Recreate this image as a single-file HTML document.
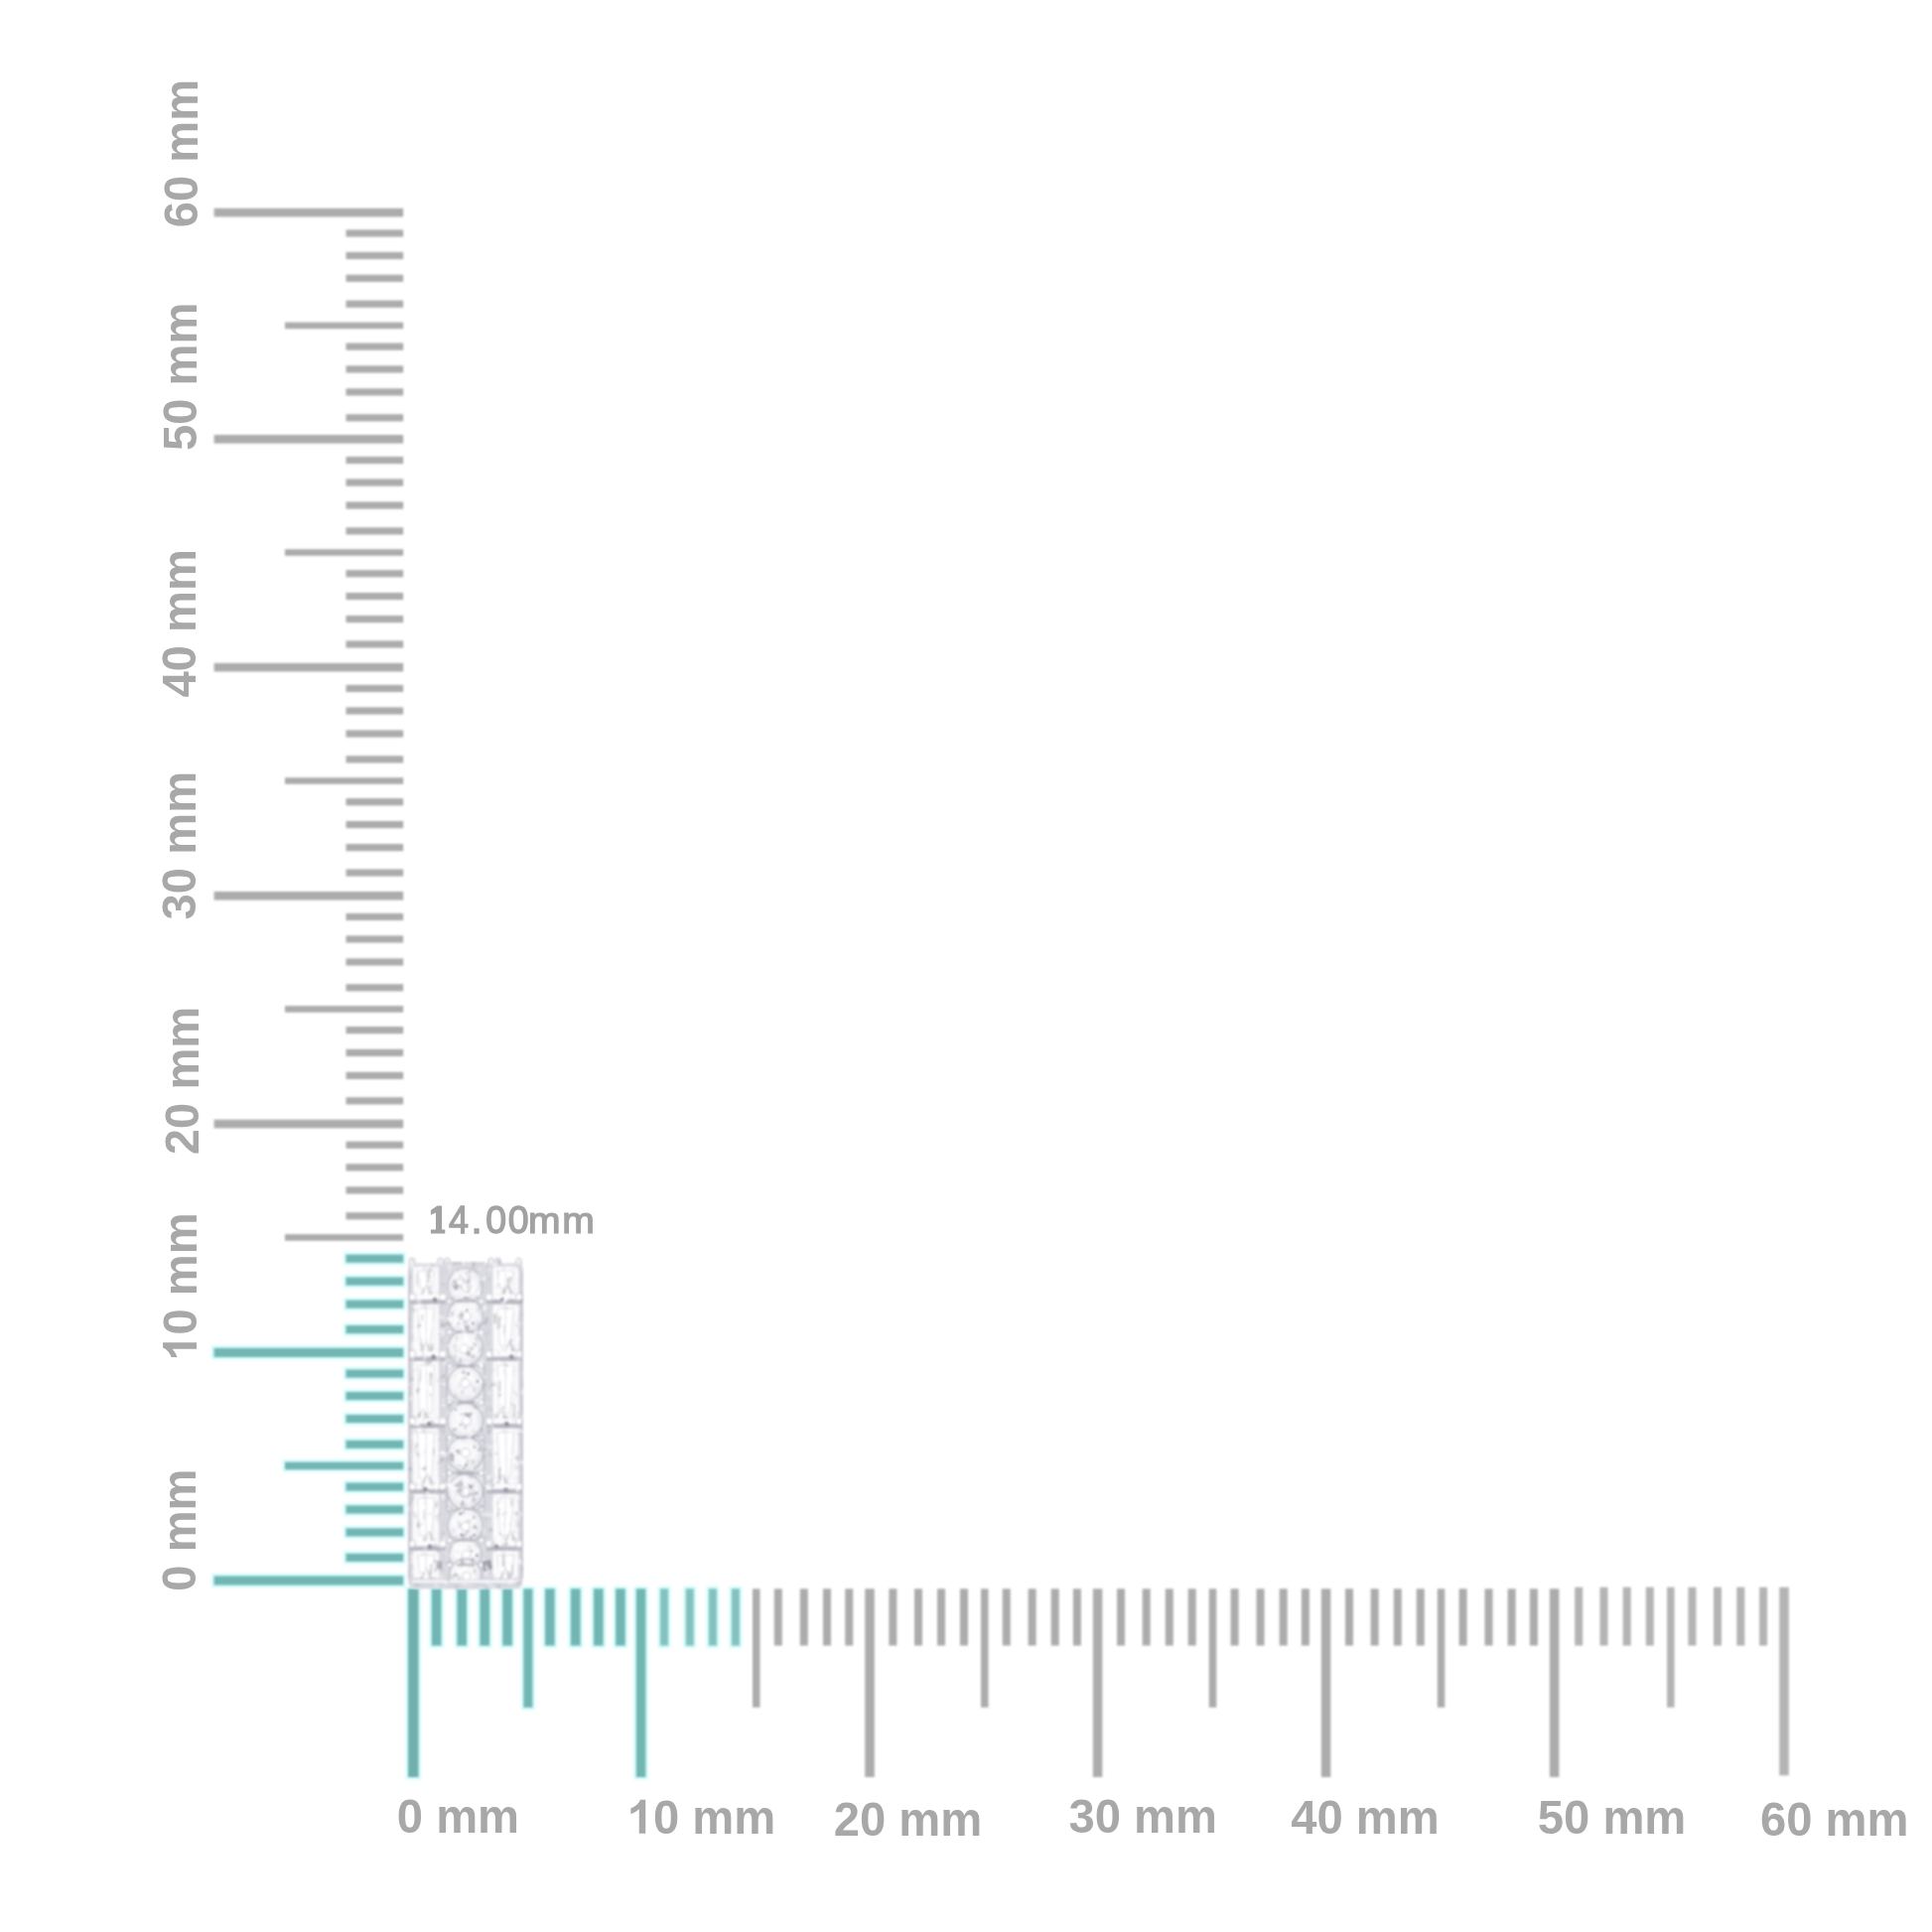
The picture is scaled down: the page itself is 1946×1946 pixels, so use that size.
<!DOCTYPE html>
<html><head><meta charset="utf-8"><title>Ring size 14.00mm</title>
<style>
html,body{margin:0;padding:0;background:#fff;}
body{width:1946px;height:1946px;overflow:hidden;position:relative;font-family:"Liberation Sans",sans-serif;}
svg{position:absolute;left:0;top:0;display:block;}
.lbl path{fill:#a8a8a8;}
.lbl text{font-family:"Liberation Sans",sans-serif;font-weight:700;font-size:47.2px;fill:#a8a8a8;}
.dim{font-family:"Liberation Sans",sans-serif;font-weight:400;font-size:39.1px;fill:#a2a2a2;stroke:#a2a2a2;stroke-width:1.3px;}
</style></head>
<body>
<svg width="1946" height="1946" viewBox="0 0 1946 1946">
<defs>
<filter id="soft" x="-2%" y="-2%" width="104%" height="104%"><feGaussianBlur stdDeviation="0.9"/></filter>
<filter id="halo" x="-2%" y="-2%" width="104%" height="104%"><feGaussianBlur stdDeviation="1.4"/></filter>
<filter id="softd" x="-2%" y="-2%" width="104%" height="104%"><feGaussianBlur stdDeviation="0.7"/></filter>
<filter id="softt" x="-2%" y="-2%" width="104%" height="104%"><feGaussianBlur stdDeviation="0.6"/></filter>
</defs>
<g filter="url(#halo)">
<rect x="408.7" y="1597.9" width="15.2" height="194.5" fill="#d2fbfb"/>
<rect x="432.46" y="1597.9" width="14.4" height="62" fill="#d2fbfb"/>
<rect x="458.01" y="1597.9" width="14.4" height="62" fill="#d2fbfb"/>
<rect x="481.07" y="1597.9" width="14.4" height="62" fill="#d2fbfb"/>
<rect x="503.93" y="1597.9" width="14.4" height="62" fill="#d2fbfb"/>
<rect x="525" y="1597.9" width="13.8" height="124.3" fill="#d2fbfb"/>
<rect x="546.66" y="1597.9" width="14.4" height="62" fill="#d2fbfb"/>
<rect x="572.51" y="1597.9" width="14.4" height="62" fill="#d2fbfb"/>
<rect x="595.57" y="1597.9" width="14.4" height="62" fill="#d2fbfb"/>
<rect x="617.74" y="1597.9" width="14.4" height="62" fill="#d2fbfb"/>
<rect x="638.45" y="1597.9" width="14.3" height="194.5" fill="#d2fbfb"/>
<rect x="662.67" y="1597.9" width="12.8" height="62" fill="#d2fbfb"/>
<rect x="688.35" y="1597.9" width="12.8" height="62" fill="#d2fbfb"/>
<rect x="711.52" y="1597.9" width="12.8" height="62" fill="#d2fbfb"/>
<rect x="734.49" y="1597.9" width="12.8" height="62" fill="#d2fbfb"/>
<rect x="213.2" y="1585.1" width="195.4" height="13.8" fill="#d2fbfb"/>
<rect x="346.1" y="1562.41" width="62.5" height="12.8" fill="#d2fbfb"/>
<rect x="346.1" y="1537.02" width="62.5" height="12.8" fill="#d2fbfb"/>
<rect x="346.1" y="1514.03" width="62.5" height="12.8" fill="#d2fbfb"/>
<rect x="346.1" y="1491.24" width="62.5" height="12.8" fill="#d2fbfb"/>
<rect x="284.6" y="1470.3" width="124" height="12.3" fill="#d2fbfb"/>
<rect x="346.1" y="1448.46" width="62.5" height="12.8" fill="#d2fbfb"/>
<rect x="346.1" y="1422.67" width="62.5" height="12.8" fill="#d2fbfb"/>
<rect x="346.1" y="1399.68" width="62.5" height="12.8" fill="#d2fbfb"/>
<rect x="346.1" y="1377.19" width="62.5" height="12.8" fill="#d2fbfb"/>
<rect x="213.2" y="1355.5" width="195.4" height="13.8" fill="#d2fbfb"/>
<rect x="346.1" y="1332.73" width="62.5" height="12.8" fill="#d2fbfb"/>
<rect x="346.1" y="1307.25" width="62.5" height="12.8" fill="#d2fbfb"/>
<rect x="346.1" y="1284.18" width="62.5" height="12.8" fill="#d2fbfb"/>
<rect x="346.1" y="1261.31" width="62.5" height="12.8" fill="#d2fbfb"/>
</g>
<g filter="url(#soft)">
<rect x="411.1" y="1600.3" width="10.4" height="189.7" fill="#70b0ad"/>
<rect x="434.86" y="1600.3" width="9.6" height="57.2" fill="#72b6b3"/>
<rect x="460.41" y="1600.3" width="9.6" height="57.2" fill="#72b6b3"/>
<rect x="483.47" y="1600.3" width="9.6" height="57.2" fill="#72b6b3"/>
<rect x="506.33" y="1600.3" width="9.6" height="57.2" fill="#72b6b3"/>
<rect x="527.4" y="1600.3" width="9" height="119.5" fill="#72b6b3"/>
<rect x="549.06" y="1600.3" width="9.6" height="57.2" fill="#72b6b3"/>
<rect x="574.91" y="1600.3" width="9.6" height="57.2" fill="#72b6b3"/>
<rect x="597.97" y="1600.3" width="9.6" height="57.2" fill="#72b6b3"/>
<rect x="620.14" y="1600.3" width="9.6" height="57.2" fill="#72b6b3"/>
<rect x="640.85" y="1600.3" width="9.5" height="189.7" fill="#72b6b3"/>
<rect x="665.07" y="1600.3" width="8" height="57.2" fill="#84c2bf"/>
<rect x="690.75" y="1600.3" width="8" height="57.2" fill="#84c2bf"/>
<rect x="713.92" y="1600.3" width="8" height="57.2" fill="#84c2bf"/>
<rect x="736.89" y="1600.3" width="8" height="57.2" fill="#84c2bf"/>
<rect x="758" y="1600.3" width="7.5" height="119.5" fill="#acacac"/>
<rect x="779.82" y="1600.3" width="8" height="57.2" fill="#acacac"/>
<rect x="805.8" y="1600.3" width="8" height="57.2" fill="#acacac"/>
<rect x="828.97" y="1600.3" width="8" height="57.2" fill="#acacac"/>
<rect x="851.24" y="1600.3" width="8" height="57.2" fill="#acacac"/>
<rect x="871.25" y="1600.3" width="9.5" height="189.7" fill="#acacac"/>
<rect x="895.39" y="1600.3" width="8" height="57.2" fill="#acacac"/>
<rect x="920.98" y="1600.3" width="8" height="57.2" fill="#acacac"/>
<rect x="944.07" y="1600.3" width="8" height="57.2" fill="#acacac"/>
<rect x="966.96" y="1600.3" width="8" height="57.2" fill="#acacac"/>
<rect x="988" y="1600.3" width="7.5" height="119.5" fill="#acacac"/>
<rect x="1009.74" y="1600.3" width="8" height="57.2" fill="#acacac"/>
<rect x="1035.63" y="1600.3" width="8" height="57.2" fill="#acacac"/>
<rect x="1058.72" y="1600.3" width="8" height="57.2" fill="#acacac"/>
<rect x="1080.91" y="1600.3" width="8" height="57.2" fill="#acacac"/>
<rect x="1100.85" y="1600.3" width="9.5" height="189.7" fill="#acacac"/>
<rect x="1125.03" y="1600.3" width="8" height="57.2" fill="#acacac"/>
<rect x="1150.66" y="1600.3" width="8" height="57.2" fill="#acacac"/>
<rect x="1173.79" y="1600.3" width="8" height="57.2" fill="#acacac"/>
<rect x="1196.72" y="1600.3" width="8" height="57.2" fill="#acacac"/>
<rect x="1217.8" y="1600.3" width="7.5" height="119.5" fill="#acacac"/>
<rect x="1239.58" y="1600.3" width="8" height="57.2" fill="#acacac"/>
<rect x="1265.51" y="1600.3" width="8" height="57.2" fill="#acacac"/>
<rect x="1288.64" y="1600.3" width="8" height="57.2" fill="#acacac"/>
<rect x="1310.87" y="1600.3" width="8" height="57.2" fill="#acacac"/>
<rect x="1330.85" y="1600.3" width="9.5" height="189.7" fill="#acacac"/>
<rect x="1355.03" y="1600.3" width="8" height="57.2" fill="#acacac"/>
<rect x="1380.66" y="1600.3" width="8" height="57.2" fill="#acacac"/>
<rect x="1403.79" y="1600.3" width="8" height="57.2" fill="#acacac"/>
<rect x="1426.72" y="1600.3" width="8" height="57.2" fill="#acacac"/>
<rect x="1447.8" y="1600.3" width="7.5" height="119.5" fill="#acacac"/>
<rect x="1469.58" y="1600.3" width="8" height="57.2" fill="#acacac"/>
<rect x="1495.51" y="1600.3" width="8" height="57.2" fill="#acacac"/>
<rect x="1518.64" y="1600.3" width="8" height="57.2" fill="#acacac"/>
<rect x="1540.87" y="1600.3" width="8" height="57.2" fill="#acacac"/>
<rect x="1560.85" y="1600.3" width="9.5" height="189.7" fill="#acacac"/>
<rect x="1586.2" y="1598.7" width="8" height="58.8" fill="#b4b4b4"/>
<rect x="1611.5" y="1598.7" width="8" height="58.8" fill="#b4b4b4"/>
<rect x="1634.7" y="1598.7" width="8" height="58.8" fill="#b4b4b4"/>
<rect x="1657.8" y="1598.7" width="8" height="58.8" fill="#b4b4b4"/>
<rect x="1679.05" y="1598.7" width="7.5" height="121.1" fill="#b4b4b4"/>
<rect x="1700.4" y="1598.7" width="8" height="58.8" fill="#b4b4b4"/>
<rect x="1726" y="1598.7" width="8" height="58.8" fill="#b4b4b4"/>
<rect x="1749.3" y="1598.7" width="8" height="58.8" fill="#b4b4b4"/>
<rect x="1772.1" y="1598.7" width="8" height="58.8" fill="#b4b4b4"/>
<rect x="1792.25" y="1598.7" width="9.5" height="189.6" fill="#b4b4b4"/>
<rect x="215.6" y="1587.5" width="190.6" height="9" fill="#72b6b3"/>
<rect x="348.5" y="1564.81" width="57.7" height="8" fill="#72b6b3"/>
<rect x="348.5" y="1539.42" width="57.7" height="8" fill="#72b6b3"/>
<rect x="348.5" y="1516.43" width="57.7" height="8" fill="#72b6b3"/>
<rect x="348.5" y="1493.64" width="57.7" height="8" fill="#72b6b3"/>
<rect x="287" y="1472.7" width="119.2" height="7.5" fill="#72b6b3"/>
<rect x="348.5" y="1450.86" width="57.7" height="8" fill="#72b6b3"/>
<rect x="348.5" y="1425.07" width="57.7" height="8" fill="#72b6b3"/>
<rect x="348.5" y="1402.08" width="57.7" height="8" fill="#72b6b3"/>
<rect x="348.5" y="1379.59" width="57.7" height="8" fill="#72b6b3"/>
<rect x="215.6" y="1357.9" width="190.6" height="9" fill="#72b6b3"/>
<rect x="348.5" y="1335.13" width="57.7" height="8" fill="#72b6b3"/>
<rect x="348.5" y="1309.65" width="57.7" height="8" fill="#72b6b3"/>
<rect x="348.5" y="1286.58" width="57.7" height="8" fill="#72b6b3"/>
<rect x="348.5" y="1263.71" width="57.7" height="8" fill="#72b6b3"/>
<rect x="287" y="1243.15" width="119.2" height="6.6" fill="#acacac"/>
<rect x="348.5" y="1221.18" width="57.7" height="7.2" fill="#acacac"/>
<rect x="348.5" y="1195.3" width="57.7" height="7.2" fill="#acacac"/>
<rect x="348.5" y="1172.23" width="57.7" height="7.2" fill="#acacac"/>
<rect x="348.5" y="1149.66" width="57.7" height="7.2" fill="#acacac"/>
<rect x="215.6" y="1127.7" width="190.6" height="8.6" fill="#acacac"/>
<rect x="348.5" y="1105.2" width="57.7" height="7.2" fill="#acacac"/>
<rect x="348.5" y="1079.8" width="57.7" height="7.2" fill="#acacac"/>
<rect x="348.5" y="1056.8" width="57.7" height="7.2" fill="#acacac"/>
<rect x="348.5" y="1034" width="57.7" height="7.2" fill="#acacac"/>
<rect x="287" y="1013.1" width="119.2" height="6.6" fill="#acacac"/>
<rect x="348.5" y="991.2" width="57.7" height="7.2" fill="#acacac"/>
<rect x="348.5" y="965.4" width="57.7" height="7.2" fill="#acacac"/>
<rect x="348.5" y="942.4" width="57.7" height="7.2" fill="#acacac"/>
<rect x="348.5" y="919.9" width="57.7" height="7.2" fill="#acacac"/>
<rect x="215.6" y="898" width="190.6" height="8.6" fill="#acacac"/>
<rect x="348.5" y="875.46" width="57.7" height="7.2" fill="#acacac"/>
<rect x="348.5" y="850.02" width="57.7" height="7.2" fill="#acacac"/>
<rect x="348.5" y="826.98" width="57.7" height="7.2" fill="#acacac"/>
<rect x="348.5" y="804.14" width="57.7" height="7.2" fill="#acacac"/>
<rect x="287" y="783.2" width="119.2" height="6.6" fill="#acacac"/>
<rect x="348.5" y="761.26" width="57.7" height="7.2" fill="#acacac"/>
<rect x="348.5" y="735.42" width="57.7" height="7.2" fill="#acacac"/>
<rect x="348.5" y="712.38" width="57.7" height="7.2" fill="#acacac"/>
<rect x="348.5" y="689.84" width="57.7" height="7.2" fill="#acacac"/>
<rect x="215.6" y="667.9" width="190.6" height="8.6" fill="#acacac"/>
<rect x="348.5" y="645.38" width="57.7" height="7.2" fill="#acacac"/>
<rect x="348.5" y="619.96" width="57.7" height="7.2" fill="#acacac"/>
<rect x="348.5" y="596.94" width="57.7" height="7.2" fill="#acacac"/>
<rect x="348.5" y="574.12" width="57.7" height="7.2" fill="#acacac"/>
<rect x="287" y="553.2" width="119.2" height="6.6" fill="#acacac"/>
<rect x="348.5" y="531.28" width="57.7" height="7.2" fill="#acacac"/>
<rect x="348.5" y="505.46" width="57.7" height="7.2" fill="#acacac"/>
<rect x="348.5" y="482.44" width="57.7" height="7.2" fill="#acacac"/>
<rect x="348.5" y="459.92" width="57.7" height="7.2" fill="#acacac"/>
<rect x="215.6" y="438" width="190.6" height="8.6" fill="#acacac"/>
<rect x="348.5" y="417.2" width="57.7" height="7.2" fill="#acacac"/>
<rect x="348.5" y="391.3" width="57.7" height="7.2" fill="#acacac"/>
<rect x="348.5" y="368.3" width="57.7" height="7.2" fill="#acacac"/>
<rect x="348.5" y="345.5" width="57.7" height="7.2" fill="#acacac"/>
<rect x="287" y="324.6" width="119.2" height="6.6" fill="#acacac"/>
<rect x="348.5" y="302.6" width="57.7" height="7.2" fill="#acacac"/>
<rect x="348.5" y="276.7" width="57.7" height="7.2" fill="#acacac"/>
<rect x="348.5" y="253.9" width="57.7" height="7.2" fill="#acacac"/>
<rect x="348.5" y="231.4" width="57.7" height="7.2" fill="#acacac"/>
<rect x="215.6" y="209.8" width="190.6" height="8.6" fill="#acacac"/>
</g>
<defs>
<linearGradient id="rgBody" x1="0" x2="1" y1="0" y2="0"><stop offset="0" stop-color="#cdcdd6"/><stop offset="0.03" stop-color="#e1e1e7"/><stop offset="0.285" stop-color="#e6e6eb"/><stop offset="0.30" stop-color="#d6d6de"/><stop offset="0.345" stop-color="#dddde4"/><stop offset="0.66" stop-color="#dddde4"/><stop offset="0.70" stop-color="#d4d4dc"/><stop offset="0.715" stop-color="#e5e5ea"/><stop offset="0.97" stop-color="#e1e1e7"/><stop offset="1" stop-color="#cbcbd4"/></linearGradient>
<radialGradient id="rgStone" cx="0.46" cy="0.44" r="0.58"><stop offset="0" stop-color="#ffffff"/><stop offset="0.62" stop-color="#f5f5f8"/><stop offset="0.88" stop-color="#e3e3e9"/><stop offset="1" stop-color="#c6c6cf"/></radialGradient>
<linearGradient id="rgBag" x1="0" x2="1" y1="0" y2="0"><stop offset="0" stop-color="#d6d6de"/><stop offset="0.1" stop-color="#f4f4f7"/><stop offset="0.3" stop-color="#ffffff"/><stop offset="0.45" stop-color="#ececf1"/><stop offset="0.6" stop-color="#fdfdfe"/><stop offset="0.9" stop-color="#f3f3f6"/><stop offset="1" stop-color="#d3d3db"/></linearGradient>
<filter id="rblur" x="-5%" y="-5%" width="110%" height="110%" color-interpolation-filters="sRGB"><feTurbulence type="fractalNoise" baseFrequency="0.16 0.13" numOctaves="3" seed="4" result="n"/><feColorMatrix in="n" type="matrix" values="0 0 0 0 0.66  0 0 0 0 0.66  0 0 0 0 0.70  2.2 2.2 0 0 -2.62" result="dk"/><feComposite in="dk" in2="SourceAlpha" operator="in" result="dkc"/><feColorMatrix in="n" type="matrix" values="0 0 0 0 1  0 0 0 0 1  0 0 0 0 1  0 -2.2 -2.2 0 1.9" result="lt"/><feComposite in="lt" in2="SourceAlpha" operator="in" result="ltc"/><feMerge result="m"><feMergeNode in="SourceGraphic"/><feMergeNode in="dkc"/><feMergeNode in="ltc"/></feMerge><feGaussianBlur in="m" stdDeviation="0.95"/></filter>
<clipPath id="rclip"><path d="M411.2 1279 Q411.2 1271 418.2 1271 L519.8 1271 Q526.8 1271 526.8 1279 L526.8 1590.3 Q526.8 1600.3 519.8 1600.3 L418.2 1600.3 Q411.2 1600.3 411.2 1590.3 Z"/></clipPath>
</defs>
<g filter="url(#rblur)">
<rect x="412.3" y="1267.2" width="5.4" height="14" rx="2.7" fill="#f3f3f6" stroke="#bfbfc9" stroke-width="1"/>
<rect x="440.8" y="1267.2" width="5.4" height="14" rx="2.7" fill="#f3f3f6" stroke="#bfbfc9" stroke-width="1"/>
<rect x="447.8" y="1267.2" width="5.4" height="14" rx="2.7" fill="#f3f3f6" stroke="#bfbfc9" stroke-width="1"/>
<rect x="491.8" y="1267.2" width="5.4" height="14" rx="2.7" fill="#f3f3f6" stroke="#bfbfc9" stroke-width="1"/>
<rect x="498.8" y="1267.2" width="5.4" height="14" rx="2.7" fill="#f3f3f6" stroke="#bfbfc9" stroke-width="1"/>
<rect x="519.8" y="1267.2" width="5.4" height="14" rx="2.7" fill="#f3f3f6" stroke="#bfbfc9" stroke-width="1"/>
<path d="M411.2 1280 Q411.2 1272 419.2 1272 L518.8 1272 Q526.8 1272 526.8 1280 L526.8 1589.3 Q526.8 1597.3 518.8 1597.3 L489 1597.3 L489 1599.7 L449 1599.7 L449 1597.3 L419.2 1597.3 Q411.2 1597.3 411.2 1589.3 Z" fill="url(#rgBody)"/>
<g clip-path="url(#rclip)">
<rect x="414.2" y="1275" width="29.8" height="29" fill="url(#rgBag)" stroke="#cdcdd6" stroke-width="0.9"/>
<path d="M420.8 1280 L437.4 1280 L433.6 1298 L423.1 1298 Z" fill="#ffffff" stroke="#d8d8df" stroke-width="0.8"/>
<line x1="417.8" y1="1278" x2="418" y2="1301" stroke="#ffffff" stroke-width="1.6"/>
<line x1="429.1" y1="1278" x2="430.4" y2="1301" stroke="#e4e4ea" stroke-width="1.2"/>
<line x1="440.4" y1="1278" x2="440.3" y2="1301" stroke="#ffffff" stroke-width="1.6"/>
<path d="M422.9 1304 L429.9 1293 L436.9 1304 Z" fill="#cbcbd4" opacity="0.85"/>
<path d="M426.4 1304 L429.9 1293 L431.4 1304 Z" fill="#ffffff" opacity="0.95"/>
<rect x="430.6" y="1281" width="1.7" height="11" fill="#b8b8c2" opacity="0.7"/>
<rect x="419.3" y="1282.3" width="1.3" height="12.5" fill="#c4c4cd" opacity="0.7"/>
<rect x="494.6" y="1275" width="29.4" height="29" fill="url(#rgBag)" stroke="#cdcdd6" stroke-width="0.9"/>
<path d="M501.1 1280 L517.5 1280 L513.2 1298 L503.6 1298 Z" fill="#ffffff" stroke="#d8d8df" stroke-width="0.8"/>
<line x1="498.1" y1="1278" x2="497.8" y2="1301" stroke="#ffffff" stroke-width="1.6"/>
<line x1="509.3" y1="1278" x2="509.2" y2="1301" stroke="#e4e4ea" stroke-width="1.2"/>
<line x1="520.5" y1="1278" x2="521.2" y2="1301" stroke="#ffffff" stroke-width="1.6"/>
<path d="M504.6 1304 L511.6 1293 L518.6 1304 Z" fill="#cbcbd4" opacity="0.85"/>
<path d="M508.1 1304 L511.6 1293 L513.1 1304 Z" fill="#ffffff" opacity="0.95"/>
<rect x="511.6" y="1288.1" width="1.3" height="6.3" fill="#b8b8c2" opacity="0.7"/>
<rect x="511" y="1287.6" width="1.5" height="10.7" fill="#b8b8c2" opacity="0.7"/>
<rect x="414.2" y="1313" width="29.8" height="48.5" fill="url(#rgBag)" stroke="#cdcdd6" stroke-width="0.9"/>
<path d="M420.8 1318 L437.4 1318 L433.4 1355.5 L423.2 1355.5 Z" fill="#ffffff" stroke="#d8d8df" stroke-width="0.8"/>
<line x1="417.8" y1="1316" x2="418.2" y2="1358.5" stroke="#ffffff" stroke-width="1.6"/>
<line x1="429.1" y1="1316" x2="429.1" y2="1358.5" stroke="#e4e4ea" stroke-width="1.2"/>
<line x1="440.4" y1="1316" x2="440.9" y2="1358.5" stroke="#ffffff" stroke-width="1.6"/>
<path d="M422.4 1361.5 L429.4 1350.5 L436.4 1361.5 Z" fill="#cbcbd4" opacity="0.85"/>
<path d="M425.9 1361.5 L429.4 1350.5 L430.9 1361.5 Z" fill="#ffffff" opacity="0.95"/>
<rect x="423.5" y="1347.4" width="2.2" height="12.7" fill="#cfcfd7" opacity="0.7"/>
<rect x="424.4" y="1324" width="1.5" height="6.6" fill="#c4c4cd" opacity="0.7"/>
<rect x="494.6" y="1313" width="29.4" height="48.5" fill="url(#rgBag)" stroke="#cdcdd6" stroke-width="0.9"/>
<path d="M501.1 1318 L517.5 1318 L513.8 1355.5 L503.3 1355.5 Z" fill="#ffffff" stroke="#d8d8df" stroke-width="0.8"/>
<line x1="498.1" y1="1316" x2="499.2" y2="1358.5" stroke="#ffffff" stroke-width="1.6"/>
<line x1="509.3" y1="1316" x2="509" y2="1358.5" stroke="#e4e4ea" stroke-width="1.2"/>
<line x1="520.5" y1="1316" x2="521.8" y2="1358.5" stroke="#ffffff" stroke-width="1.6"/>
<path d="M506.6 1361.5 L513.6 1350.5 L520.6 1361.5 Z" fill="#cbcbd4" opacity="0.85"/>
<path d="M510.1 1361.5 L513.6 1350.5 L515.1 1361.5 Z" fill="#ffffff" opacity="0.95"/>
<rect x="497.6" y="1323.4" width="2.1" height="9.8" fill="#adadb8" opacity="0.7"/>
<rect x="507" y="1334.3" width="1.4" height="11.4" fill="#cfcfd7" opacity="0.7"/>
<rect x="414.2" y="1370.5" width="29.8" height="58.5" fill="url(#rgBag)" stroke="#cdcdd6" stroke-width="0.9"/>
<path d="M420.8 1375.5 L437.4 1375.5 L434.7 1423 L422.4 1423 Z" fill="#ffffff" stroke="#d8d8df" stroke-width="0.8"/>
<line x1="417.8" y1="1373.5" x2="417.3" y2="1426" stroke="#ffffff" stroke-width="1.6"/>
<line x1="429.1" y1="1373.5" x2="430.5" y2="1426" stroke="#e4e4ea" stroke-width="1.2"/>
<line x1="440.4" y1="1373.5" x2="441.2" y2="1426" stroke="#ffffff" stroke-width="1.6"/>
<path d="M418.9 1429 L425.9 1418 L432.9 1429 Z" fill="#cbcbd4" opacity="0.85"/>
<path d="M422.4 1429 L425.9 1418 L427.4 1429 Z" fill="#ffffff" opacity="0.95"/>
<rect x="422.8" y="1378.6" width="1.3" height="12.4" fill="#b8b8c2" opacity="0.7"/>
<rect x="432.8" y="1382.1" width="1.7" height="13.9" fill="#b8b8c2" opacity="0.7"/>
<rect x="494.6" y="1370.5" width="29.4" height="58.5" fill="url(#rgBag)" stroke="#cdcdd6" stroke-width="0.9"/>
<path d="M501.1 1375.5 L517.5 1375.5 L513.8 1423 L503.3 1423 Z" fill="#ffffff" stroke="#d8d8df" stroke-width="0.8"/>
<line x1="498.1" y1="1373.5" x2="497.8" y2="1426" stroke="#ffffff" stroke-width="1.6"/>
<line x1="509.3" y1="1373.5" x2="509" y2="1426" stroke="#e4e4ea" stroke-width="1.2"/>
<line x1="520.5" y1="1373.5" x2="521.9" y2="1426" stroke="#ffffff" stroke-width="1.6"/>
<path d="M497.9 1429 L504.9 1418 L511.9 1429 Z" fill="#cbcbd4" opacity="0.85"/>
<path d="M501.4 1429 L504.9 1418 L506.4 1429 Z" fill="#ffffff" opacity="0.95"/>
<rect x="517" y="1414" width="1.8" height="14" fill="#c4c4cd" opacity="0.7"/>
<rect x="502.3" y="1390.5" width="2.1" height="11.1" fill="#c4c4cd" opacity="0.7"/>
<rect x="414.2" y="1438" width="29.8" height="57" fill="url(#rgBag)" stroke="#cdcdd6" stroke-width="0.9"/>
<path d="M420.8 1443 L437.4 1443 L434.8 1489 L422.3 1489 Z" fill="#ffffff" stroke="#d8d8df" stroke-width="0.8"/>
<line x1="417.8" y1="1441" x2="416.7" y2="1492" stroke="#ffffff" stroke-width="1.6"/>
<line x1="429.1" y1="1441" x2="428.9" y2="1492" stroke="#e4e4ea" stroke-width="1.2"/>
<line x1="440.4" y1="1441" x2="439" y2="1492" stroke="#ffffff" stroke-width="1.6"/>
<path d="M424 1495 L431 1484 L438 1495 Z" fill="#cbcbd4" opacity="0.85"/>
<path d="M427.5 1495 L431 1484 L432.5 1495 Z" fill="#ffffff" opacity="0.95"/>
<rect x="436.1" y="1457.1" width="1.3" height="7.7" fill="#b8b8c2" opacity="0.7"/>
<rect x="417.6" y="1456.4" width="1.8" height="7" fill="#d8d8df" opacity="0.7"/>
<rect x="494.6" y="1438" width="29.4" height="57" fill="url(#rgBag)" stroke="#cdcdd6" stroke-width="0.9"/>
<path d="M501.1 1443 L517.5 1443 L513.6 1489 L503.4 1489 Z" fill="#ffffff" stroke="#d8d8df" stroke-width="0.8"/>
<line x1="498.1" y1="1441" x2="498.4" y2="1492" stroke="#ffffff" stroke-width="1.6"/>
<line x1="509.3" y1="1441" x2="510.4" y2="1492" stroke="#e4e4ea" stroke-width="1.2"/>
<line x1="520.5" y1="1441" x2="519.5" y2="1492" stroke="#ffffff" stroke-width="1.6"/>
<path d="M499.5 1495 L506.5 1484 L513.5 1495 Z" fill="#cbcbd4" opacity="0.85"/>
<path d="M503 1495 L506.5 1484 L508 1495 Z" fill="#ffffff" opacity="0.95"/>
<rect x="517.9" y="1473.9" width="1.4" height="7.5" fill="#d8d8df" opacity="0.7"/>
<rect x="502" y="1479.1" width="2.1" height="10.8" fill="#adadb8" opacity="0.7"/>
<rect x="414.2" y="1504" width="29.8" height="48.5" fill="url(#rgBag)" stroke="#cdcdd6" stroke-width="0.9"/>
<path d="M420.8 1509 L437.4 1509 L434.8 1546.5 L422.3 1546.5 Z" fill="#ffffff" stroke="#d8d8df" stroke-width="0.8"/>
<line x1="417.8" y1="1507" x2="416.6" y2="1549.5" stroke="#ffffff" stroke-width="1.6"/>
<line x1="429.1" y1="1507" x2="429.1" y2="1549.5" stroke="#e4e4ea" stroke-width="1.2"/>
<line x1="440.4" y1="1507" x2="439.7" y2="1549.5" stroke="#ffffff" stroke-width="1.6"/>
<path d="M425.3 1552.5 L432.3 1541.5 L439.3 1552.5 Z" fill="#cbcbd4" opacity="0.85"/>
<path d="M428.8 1552.5 L432.3 1541.5 L433.8 1552.5 Z" fill="#ffffff" opacity="0.95"/>
<rect x="426.1" y="1520.8" width="2.1" height="9.9" fill="#d8d8df" opacity="0.7"/>
<rect x="421.2" y="1530" width="1.3" height="7.8" fill="#d8d8df" opacity="0.7"/>
<rect x="494.6" y="1504" width="29.4" height="48.5" fill="url(#rgBag)" stroke="#cdcdd6" stroke-width="0.9"/>
<path d="M501.1 1509 L517.5 1509 L513.1 1546.5 L503.7 1546.5 Z" fill="#ffffff" stroke="#d8d8df" stroke-width="0.8"/>
<line x1="498.1" y1="1507" x2="498.5" y2="1549.5" stroke="#ffffff" stroke-width="1.6"/>
<line x1="509.3" y1="1507" x2="508" y2="1549.5" stroke="#e4e4ea" stroke-width="1.2"/>
<line x1="520.5" y1="1507" x2="519.6" y2="1549.5" stroke="#ffffff" stroke-width="1.6"/>
<path d="M507.3 1552.5 L514.3 1541.5 L521.3 1552.5 Z" fill="#cbcbd4" opacity="0.85"/>
<path d="M510.8 1552.5 L514.3 1541.5 L515.8 1552.5 Z" fill="#ffffff" opacity="0.95"/>
<rect x="514.4" y="1510.1" width="1.6" height="8" fill="#c4c4cd" opacity="0.7"/>
<rect x="501.5" y="1519.2" width="1.8" height="7.1" fill="#cfcfd7" opacity="0.7"/>
<rect x="414.2" y="1561.5" width="29.8" height="28.5" fill="url(#rgBag)" stroke="#cdcdd6" stroke-width="0.9"/>
<path d="M420.8 1566.5 L437.4 1566.5 L434.5 1584 L422.5 1584 Z" fill="#ffffff" stroke="#d8d8df" stroke-width="0.8"/>
<line x1="417.8" y1="1564.5" x2="417.6" y2="1587" stroke="#ffffff" stroke-width="1.6"/>
<line x1="429.1" y1="1564.5" x2="428.6" y2="1587" stroke="#e4e4ea" stroke-width="1.2"/>
<line x1="440.4" y1="1564.5" x2="441.1" y2="1587" stroke="#ffffff" stroke-width="1.6"/>
<path d="M423.1 1590 L430.1 1579 L437.1 1590 Z" fill="#cbcbd4" opacity="0.85"/>
<path d="M426.6 1590 L430.1 1579 L431.6 1590 Z" fill="#ffffff" opacity="0.95"/>
<rect x="438.8" y="1571.7" width="2.1" height="9.8" fill="#cfcfd7" opacity="0.7"/>
<rect x="433.2" y="1575.6" width="1.2" height="11.1" fill="#adadb8" opacity="0.7"/>
<rect x="494.6" y="1561.5" width="29.4" height="28.5" fill="url(#rgBag)" stroke="#cdcdd6" stroke-width="0.9"/>
<path d="M501.1 1566.5 L517.5 1566.5 L514.8 1584 L502.7 1584 Z" fill="#ffffff" stroke="#d8d8df" stroke-width="0.8"/>
<line x1="498.1" y1="1564.5" x2="497.6" y2="1587" stroke="#ffffff" stroke-width="1.6"/>
<line x1="509.3" y1="1564.5" x2="508.2" y2="1587" stroke="#e4e4ea" stroke-width="1.2"/>
<line x1="520.5" y1="1564.5" x2="519.2" y2="1587" stroke="#ffffff" stroke-width="1.6"/>
<path d="M502.6 1590 L509.6 1579 L516.6 1590 Z" fill="#cbcbd4" opacity="0.85"/>
<path d="M506.1 1590 L509.6 1579 L511.1 1590 Z" fill="#ffffff" opacity="0.95"/>
<rect x="505.8" y="1566" width="2.1" height="11.9" fill="#b8b8c2" opacity="0.7"/>
<rect x="515.4" y="1575.1" width="1.6" height="11.5" fill="#c4c4cd" opacity="0.7"/>
<rect x="412.7" y="1307" width="35.8" height="6.4" fill="#b9b9c3"/>
<rect x="412.7" y="1303.4" width="35.8" height="5.6" rx="2.8" fill="#fcfcfd"/>
<circle cx="415.3" cy="1306.4" r="3.6" fill="#ffffff" stroke="#c0c0ca" stroke-width="0.8"/>
<circle cx="445.9" cy="1306.4" r="3.6" fill="#ffffff" stroke="#c0c0ca" stroke-width="0.8"/>
<path d="M435.4 1308.5 l3 -2 l2.5 3 l-3 2.5 z" fill="#8c8c97"/>
<rect x="490.1" y="1307" width="35.4" height="6.4" fill="#b9b9c3"/>
<rect x="490.1" y="1303.4" width="35.4" height="5.6" rx="2.8" fill="#fcfcfd"/>
<circle cx="492.7" cy="1306.4" r="3.6" fill="#ffffff" stroke="#c0c0ca" stroke-width="0.8"/>
<circle cx="522.9" cy="1306.4" r="3.6" fill="#ffffff" stroke="#c0c0ca" stroke-width="0.8"/>
<path d="M503.7 1308.5 l3 -2 l2.5 3 l-3 2.5 z" fill="#8c8c97"/>
<rect x="412.7" y="1364.5" width="35.8" height="6.4" fill="#b9b9c3"/>
<rect x="412.7" y="1360.9" width="35.8" height="5.6" rx="2.8" fill="#fcfcfd"/>
<circle cx="415.3" cy="1363.9" r="3.6" fill="#ffffff" stroke="#c0c0ca" stroke-width="0.8"/>
<circle cx="445.9" cy="1363.9" r="3.6" fill="#ffffff" stroke="#c0c0ca" stroke-width="0.8"/>
<path d="M433.9 1366 l3 -2 l2.5 3 l-3 2.5 z" fill="#8c8c97"/>
<rect x="490.1" y="1364.5" width="35.4" height="6.4" fill="#b9b9c3"/>
<rect x="490.1" y="1360.9" width="35.4" height="5.6" rx="2.8" fill="#fcfcfd"/>
<circle cx="492.7" cy="1363.9" r="3.6" fill="#ffffff" stroke="#c0c0ca" stroke-width="0.8"/>
<circle cx="522.9" cy="1363.9" r="3.6" fill="#ffffff" stroke="#c0c0ca" stroke-width="0.8"/>
<path d="M512.4 1366 l3 -2 l2.5 3 l-3 2.5 z" fill="#8c8c97"/>
<rect x="412.7" y="1432" width="35.8" height="6.4" fill="#b9b9c3"/>
<rect x="412.7" y="1428.4" width="35.8" height="5.6" rx="2.8" fill="#fcfcfd"/>
<circle cx="415.3" cy="1431.4" r="3.6" fill="#ffffff" stroke="#c0c0ca" stroke-width="0.8"/>
<circle cx="445.9" cy="1431.4" r="3.6" fill="#ffffff" stroke="#c0c0ca" stroke-width="0.8"/>
<path d="M429.5 1433.5 l3 -2 l2.5 3 l-3 2.5 z" fill="#8c8c97"/>
<rect x="490.1" y="1432" width="35.4" height="6.4" fill="#b9b9c3"/>
<rect x="490.1" y="1428.4" width="35.4" height="5.6" rx="2.8" fill="#fcfcfd"/>
<circle cx="492.7" cy="1431.4" r="3.6" fill="#ffffff" stroke="#c0c0ca" stroke-width="0.8"/>
<circle cx="522.9" cy="1431.4" r="3.6" fill="#ffffff" stroke="#c0c0ca" stroke-width="0.8"/>
<path d="M507.7 1433.5 l3 -2 l2.5 3 l-3 2.5 z" fill="#8c8c97"/>
<rect x="412.7" y="1498" width="35.8" height="6.4" fill="#b9b9c3"/>
<rect x="412.7" y="1494.4" width="35.8" height="5.6" rx="2.8" fill="#fcfcfd"/>
<circle cx="415.3" cy="1497.4" r="3.6" fill="#ffffff" stroke="#c0c0ca" stroke-width="0.8"/>
<circle cx="445.9" cy="1497.4" r="3.6" fill="#ffffff" stroke="#c0c0ca" stroke-width="0.8"/>
<path d="M425.8 1499.5 l3 -2 l2.5 3 l-3 2.5 z" fill="#8c8c97"/>
<rect x="490.1" y="1498" width="35.4" height="6.4" fill="#b9b9c3"/>
<rect x="490.1" y="1494.4" width="35.4" height="5.6" rx="2.8" fill="#fcfcfd"/>
<circle cx="492.7" cy="1497.4" r="3.6" fill="#ffffff" stroke="#c0c0ca" stroke-width="0.8"/>
<circle cx="522.9" cy="1497.4" r="3.6" fill="#ffffff" stroke="#c0c0ca" stroke-width="0.8"/>
<path d="M506.9 1499.5 l3 -2 l2.5 3 l-3 2.5 z" fill="#8c8c97"/>
<rect x="412.7" y="1555.5" width="35.8" height="6.4" fill="#b9b9c3"/>
<rect x="412.7" y="1551.9" width="35.8" height="5.6" rx="2.8" fill="#fcfcfd"/>
<circle cx="415.3" cy="1554.9" r="3.6" fill="#ffffff" stroke="#c0c0ca" stroke-width="0.8"/>
<circle cx="445.9" cy="1554.9" r="3.6" fill="#ffffff" stroke="#c0c0ca" stroke-width="0.8"/>
<path d="M430.3 1557 l3 -2 l2.5 3 l-3 2.5 z" fill="#8c8c97"/>
<rect x="490.1" y="1555.5" width="35.4" height="6.4" fill="#b9b9c3"/>
<rect x="490.1" y="1551.9" width="35.4" height="5.6" rx="2.8" fill="#fcfcfd"/>
<circle cx="492.7" cy="1554.9" r="3.6" fill="#ffffff" stroke="#c0c0ca" stroke-width="0.8"/>
<circle cx="522.9" cy="1554.9" r="3.6" fill="#ffffff" stroke="#c0c0ca" stroke-width="0.8"/>
<path d="M497.2 1557 l3 -2 l2.5 3 l-3 2.5 z" fill="#8c8c97"/>
<rect x="449.4" y="1271" width="38.8" height="330.3" fill="#dbdbe2"/>
<rect x="450" y="1376" width="37.6" height="36" fill="#e9e9ee" stroke="#b4b4be" stroke-width="1.1"/>
<rect x="450" y="1446.7" width="37.6" height="36" fill="#e9e9ee" stroke="#b4b4be" stroke-width="1.1"/>
<rect x="450" y="1484.7" width="37.6" height="36" fill="#e9e9ee" stroke="#b4b4be" stroke-width="1.1"/>
<circle cx="468.8" cy="1295.3" r="17.8" fill="url(#rgStone)" stroke="#bcbcc6" stroke-width="1.2"/>
<polygon points="458.2,1279.4 462.9,1286.2 455.4,1286.2" fill="#f8f8fb" opacity="0.85"/>
<polygon points="455.8,1297.8 460.2,1294.3 461.7,1300" fill="#b8b8c2" opacity="0.85"/>
<polygon points="459.7,1299.8 453.9,1293.7 462.5,1294" fill="#adadb8" opacity="0.85"/>
<polygon points="459.3,1292.6 456.9,1296.8 454.1,1292.4" fill="#d8d8df" opacity="0.85"/>
<polygon points="475.7,1302.4 472,1307.6 468,1301" fill="#ffffff" opacity="0.85"/>
<polygon points="471.6,1297.7 471.4,1302.9 468,1298.1" fill="#cfcfd7" opacity="0.85"/>
<polygon points="477.5,1297 477.9,1305.2 471.1,1300.6" fill="#fdfdfe" opacity="0.85"/>
<polygon points="465.4,1294.7 464.8,1298.7 462.6,1296" fill="#d8d8df" opacity="0.85"/>
<polygon points="460.3,1290 463.4,1283.4 466.5,1288.2" fill="#cfcfd7" opacity="0.85"/>
<polygon points="474.9,1282.5 470.9,1281.6 473.3,1278.7" fill="#b8b8c2" opacity="0.85"/>
<polygon points="468.9,1292.1 463.1,1289.7 468.8,1287.6" fill="#cfcfd7" opacity="0.85"/>
<polygon points="474,1306.6 468.7,1310.6 467.5,1306.2" fill="#adadb8" opacity="0.85"/>
<polygon points="483.9,1305.6 477.1,1303.3 483.4,1299.5" fill="#fdfdfe" opacity="0.85"/>
<polygon points="459.3,1288.6 460.5,1294.4 455,1290.8" fill="#b8b8c2" opacity="0.85"/>
<circle cx="469.5" cy="1296.3" r="4.5" fill="#ffffff" stroke="#c0c0ca" stroke-width="0.8"/>
<circle cx="461" cy="1285.7" r="0.9" fill="#ffffff"/>
<circle cx="483.6" cy="1293.5" r="1.2" fill="#ffffff"/>
<circle cx="467.9" cy="1307.6" r="0.8" fill="#8a8a95"/>
<circle cx="477.3" cy="1297.3" r="1.1" fill="#ffffff"/>
<circle cx="468.8" cy="1326.1" r="17.8" fill="url(#rgStone)" stroke="#bcbcc6" stroke-width="1.2"/>
<polygon points="468.3,1329 462.3,1329.7 463.9,1322.3" fill="#cfcfd7" opacity="0.85"/>
<polygon points="449.6,1327.7 456.5,1325.1 454.4,1333.4" fill="#fdfdfe" opacity="0.85"/>
<polygon points="470.5,1324.7 475.1,1323 473.7,1327.2" fill="#ffffff" opacity="0.85"/>
<polygon points="454.4,1322.2 457.4,1325.7 453.2,1327" fill="#d8d8df" opacity="0.85"/>
<polygon points="474.2,1313.4 480.5,1312.4 477.7,1317.7" fill="#fdfdfe" opacity="0.85"/>
<polygon points="463.7,1331.9 461,1334.9 459.7,1332.4" fill="#b8b8c2" opacity="0.85"/>
<polygon points="463.8,1322.7 468.4,1318.7 470.6,1323.2" fill="#f8f8fb" opacity="0.85"/>
<polygon points="465.8,1326.1 460.7,1330.9 457.1,1324.9" fill="#fdfdfe" opacity="0.85"/>
<polygon points="457.8,1314.2 460.4,1317.5 456.3,1317.7" fill="#f8f8fb" opacity="0.85"/>
<polygon points="463.6,1337.8 467.8,1335.5 466.9,1340.4" fill="#fdfdfe" opacity="0.85"/>
<polygon points="465.7,1333.6 469,1328.5 471.5,1334.2" fill="#cfcfd7" opacity="0.85"/>
<polygon points="457.1,1326.1 452.4,1321.6 458.4,1320.8" fill="#cfcfd7" opacity="0.85"/>
<polygon points="473.2,1335.2 471.1,1342.3 467.1,1335.1" fill="#adadb8" opacity="0.85"/>
<polygon points="471.1,1318.5 470.9,1322.4 467.6,1319.8" fill="#fdfdfe" opacity="0.85"/>
<circle cx="469.8" cy="1325.9" r="4.5" fill="#ffffff" stroke="#c0c0ca" stroke-width="0.8"/>
<circle cx="470.4" cy="1319.7" r="1.1" fill="#8a8a95"/>
<circle cx="477.8" cy="1332.3" r="1.1" fill="#ffffff"/>
<circle cx="476.5" cy="1332.9" r="1.3" fill="#9e9ea9"/>
<circle cx="472.1" cy="1316.6" r="0.8" fill="#ffffff"/>
<circle cx="468.8" cy="1357.8" r="17.8" fill="url(#rgStone)" stroke="#bcbcc6" stroke-width="1.2"/>
<polygon points="474.4,1360.9 472.6,1364.9 469.8,1363" fill="#c4c4cd" opacity="0.85"/>
<polygon points="478.3,1367.5 474.4,1367.4 476.3,1364.1" fill="#adadb8" opacity="0.85"/>
<polygon points="467.1,1351.9 467.7,1359.1 462,1354.5" fill="#fdfdfe" opacity="0.85"/>
<polygon points="478.4,1350.6 480.1,1353.8 475.8,1352.8" fill="#f8f8fb" opacity="0.85"/>
<polygon points="475.9,1353 480.7,1353.3 478.6,1356.5" fill="#b8b8c2" opacity="0.85"/>
<polygon points="464.2,1346.4 469.4,1341.1 471.8,1347.7" fill="#fdfdfe" opacity="0.85"/>
<polygon points="473.4,1350.8 466.3,1351.9 467.8,1346" fill="#ffffff" opacity="0.85"/>
<polygon points="481.7,1358.8 480.9,1355.9 484.6,1355.8" fill="#fdfdfe" opacity="0.85"/>
<polygon points="463.1,1354 458,1356.1 459.1,1350.7" fill="#fdfdfe" opacity="0.85"/>
<polygon points="479.5,1363.4 475.4,1358.5 482.4,1356.7" fill="#fdfdfe" opacity="0.85"/>
<polygon points="473.8,1360.5 473.9,1355.9 478.1,1358.5" fill="#b8b8c2" opacity="0.85"/>
<polygon points="458.9,1346.3 462,1346.4 459.5,1349.9" fill="#cfcfd7" opacity="0.85"/>
<polygon points="453.5,1366 460.6,1364.3 458.8,1371.8" fill="#d8d8df" opacity="0.85"/>
<polygon points="457.4,1358.9 456.4,1353.9 461.2,1354.7" fill="#d8d8df" opacity="0.85"/>
<circle cx="467.4" cy="1358.6" r="4.5" fill="#ffffff" stroke="#c0c0ca" stroke-width="0.8"/>
<circle cx="458.9" cy="1351.9" r="1.1" fill="#ffffff"/>
<circle cx="476.8" cy="1360.5" r="1.1" fill="#ffffff"/>
<circle cx="481.5" cy="1364.1" r="1.1" fill="#ffffff"/>
<circle cx="468.7" cy="1370.5" r="0.8" fill="#8a8a95"/>
<circle cx="468.8" cy="1394" r="17.8" fill="url(#rgStone)" stroke="#bcbcc6" stroke-width="1.2"/>
<polygon points="483.1,1389.8 478.3,1392.4 477.1,1387.5" fill="#fdfdfe" opacity="0.85"/>
<polygon points="462.8,1400.5 462.5,1392.5 468.9,1395.9" fill="#fdfdfe" opacity="0.85"/>
<polygon points="459,1396.8 462.6,1392.2 464.6,1398.8" fill="#d8d8df" opacity="0.85"/>
<polygon points="470.3,1386.7 468.3,1390 465.9,1387.1" fill="#d8d8df" opacity="0.85"/>
<polygon points="461.7,1389.8 455.6,1386.6 463,1384.4" fill="#ffffff" opacity="0.85"/>
<polygon points="487.3,1391.7 480.3,1395.9 481.4,1388" fill="#fdfdfe" opacity="0.85"/>
<polygon points="475.8,1392.9 477.4,1396.3 472.6,1397.2" fill="#ffffff" opacity="0.85"/>
<polygon points="458.4,1395.7 463.3,1392.7 462.1,1397.6" fill="#f8f8fb" opacity="0.85"/>
<polygon points="473.9,1387.9 468.6,1383.5 476.4,1382" fill="#ffffff" opacity="0.85"/>
<polygon points="474.7,1408.2 474.5,1401.7 479.6,1403.1" fill="#f8f8fb" opacity="0.85"/>
<polygon points="470,1398.1 461.7,1399.5 465.5,1393" fill="#f8f8fb" opacity="0.85"/>
<polygon points="454.7,1398.5 454.9,1395.3 458.1,1397" fill="#f8f8fb" opacity="0.85"/>
<polygon points="469,1384.5 464.2,1382.4 467.8,1379.9" fill="#b8b8c2" opacity="0.85"/>
<polygon points="468.3,1400.1 465.9,1405.3 461.7,1400.1" fill="#d8d8df" opacity="0.85"/>
<circle cx="468.7" cy="1393.2" r="4.5" fill="#ffffff" stroke="#c0c0ca" stroke-width="0.8"/>
<circle cx="481" cy="1391.5" r="1.2" fill="#8a8a95"/>
<circle cx="463" cy="1400.8" r="1.1" fill="#ffffff"/>
<circle cx="457.5" cy="1387.3" r="1.3" fill="#ffffff"/>
<circle cx="471.9" cy="1383.8" r="1.4" fill="#9e9ea9"/>
<circle cx="468.8" cy="1431.2" r="17.8" fill="url(#rgStone)" stroke="#bcbcc6" stroke-width="1.2"/>
<polygon points="475.1,1446.6 471,1439.2 478.6,1441" fill="#fdfdfe" opacity="0.85"/>
<polygon points="463.7,1436.6 467.2,1430.5 471.3,1437.4" fill="#ffffff" opacity="0.85"/>
<polygon points="483,1439.8 476.2,1440.4 480.3,1432.7" fill="#f8f8fb" opacity="0.85"/>
<polygon points="460.9,1434.6 458.7,1440.1 455.2,1435.6" fill="#ffffff" opacity="0.85"/>
<polygon points="464.4,1419.5 467.2,1425.2 461.9,1425.4" fill="#f8f8fb" opacity="0.85"/>
<polygon points="469.3,1435.7 463.9,1435.5 465.7,1431.2" fill="#ffffff" opacity="0.85"/>
<polygon points="463.4,1421 466.3,1415.7 467.5,1421.3" fill="#fdfdfe" opacity="0.85"/>
<polygon points="462.8,1424.5 468.5,1422.9 466.9,1427.4" fill="#b8b8c2" opacity="0.85"/>
<polygon points="471.3,1434.7 468.9,1440.5 463,1434.1" fill="#c4c4cd" opacity="0.85"/>
<polygon points="464.1,1434.8 469.2,1435.1 466.4,1439.6" fill="#f8f8fb" opacity="0.85"/>
<polygon points="471.2,1435 473.5,1438.9 469.1,1438" fill="#f8f8fb" opacity="0.85"/>
<polygon points="477.4,1423.4 472.9,1426.7 471.5,1422.5" fill="#adadb8" opacity="0.85"/>
<polygon points="465.4,1432.9 465,1436.9 461.5,1434.8" fill="#c4c4cd" opacity="0.85"/>
<polygon points="463.4,1426.5 466.5,1424.2 466.3,1427.7" fill="#fdfdfe" opacity="0.85"/>
<circle cx="469.9" cy="1430.9" r="4.5" fill="#ffffff" stroke="#c0c0ca" stroke-width="0.8"/>
<circle cx="469.7" cy="1424.5" r="1.4" fill="#9e9ea9"/>
<circle cx="459" cy="1419.8" r="1" fill="#8a8a95"/>
<circle cx="476.3" cy="1441.7" r="0.8" fill="#9e9ea9"/>
<circle cx="471.5" cy="1425.7" r="1" fill="#8a8a95"/>
<circle cx="468.8" cy="1464.7" r="17.8" fill="url(#rgStone)" stroke="#bcbcc6" stroke-width="1.2"/>
<polygon points="477.8,1455.1 479.6,1458.4 476.3,1459.1" fill="#adadb8" opacity="0.85"/>
<polygon points="457.1,1469.6 457.7,1473.7 454.3,1471.8" fill="#cfcfd7" opacity="0.85"/>
<polygon points="480.2,1461.4 483.6,1457.1 485.1,1461.5" fill="#b8b8c2" opacity="0.85"/>
<polygon points="459.7,1475.1 462,1471.4 463.3,1475" fill="#f8f8fb" opacity="0.85"/>
<polygon points="452.3,1470.5 456.3,1465.3 457.8,1472.9" fill="#adadb8" opacity="0.85"/>
<polygon points="476.8,1460.9 471.3,1464.9 470.7,1458.7" fill="#ffffff" opacity="0.85"/>
<polygon points="464.9,1456.6 467.4,1460.8 463.4,1460.4" fill="#f8f8fb" opacity="0.85"/>
<polygon points="464.3,1477.3 460.1,1476.2 463.5,1474.2" fill="#cfcfd7" opacity="0.85"/>
<polygon points="468.3,1465.7 473.5,1468 467.2,1469.8" fill="#fdfdfe" opacity="0.85"/>
<polygon points="461,1469.1 466,1462.6 468.3,1470.5" fill="#fdfdfe" opacity="0.85"/>
<polygon points="454.5,1462.5 458.3,1467.1 451.3,1467.8" fill="#adadb8" opacity="0.85"/>
<polygon points="462.4,1457.6 462.3,1453.9 465.1,1455.1" fill="#fdfdfe" opacity="0.85"/>
<polygon points="472.8,1473.9 468.5,1473.4 471.3,1469" fill="#d8d8df" opacity="0.85"/>
<polygon points="463.2,1465.4 458.2,1461.6 462.8,1459.3" fill="#adadb8" opacity="0.85"/>
<circle cx="469" cy="1463.3" r="4.5" fill="#ffffff" stroke="#c0c0ca" stroke-width="0.8"/>
<circle cx="461.8" cy="1453.8" r="0.9" fill="#ffffff"/>
<circle cx="458" cy="1459.1" r="1" fill="#ffffff"/>
<circle cx="467.4" cy="1478.6" r="1.1" fill="#9e9ea9"/>
<circle cx="469.6" cy="1475.6" r="1.2" fill="#8a8a95"/>
<circle cx="468.8" cy="1502.7" r="17.8" fill="url(#rgStone)" stroke="#bcbcc6" stroke-width="1.2"/>
<polygon points="467.1,1501.2 460.2,1504.1 459.2,1497.3" fill="#c4c4cd" opacity="0.85"/>
<polygon points="463.5,1514.5 467.3,1514.3 465.5,1518.9" fill="#b8b8c2" opacity="0.85"/>
<polygon points="465.1,1504.9 461.7,1509.1 458.1,1502" fill="#fdfdfe" opacity="0.85"/>
<polygon points="463.1,1498.7 456.8,1497.1 462.6,1491.8" fill="#b8b8c2" opacity="0.85"/>
<polygon points="463.3,1503.8 460.7,1498.7 467,1499.3" fill="#c4c4cd" opacity="0.85"/>
<polygon points="463.6,1491.3 467.7,1487.3 467.2,1493.3" fill="#fdfdfe" opacity="0.85"/>
<polygon points="472.7,1491.2 467.1,1492.8 467.5,1487.7" fill="#fdfdfe" opacity="0.85"/>
<polygon points="470.1,1510 469.8,1502.2 476.7,1504.2" fill="#c4c4cd" opacity="0.85"/>
<polygon points="463.8,1515.5 465.7,1509.7 468.4,1514.7" fill="#b8b8c2" opacity="0.85"/>
<polygon points="471.7,1514.9 470,1518.6 466.6,1516.2" fill="#adadb8" opacity="0.85"/>
<polygon points="462.4,1498 458.3,1504.2 454.3,1497" fill="#ffffff" opacity="0.85"/>
<polygon points="474.4,1500.7 470.5,1494.7 478.4,1494.9" fill="#b8b8c2" opacity="0.85"/>
<polygon points="459.7,1500.2 467.1,1499.1 463.1,1506.5" fill="#c4c4cd" opacity="0.85"/>
<polygon points="468.3,1502.3 469.9,1509.8 462.4,1506.7" fill="#c4c4cd" opacity="0.85"/>
<circle cx="468.2" cy="1502.6" r="4.5" fill="#ffffff" stroke="#c0c0ca" stroke-width="0.8"/>
<circle cx="465.5" cy="1510.5" r="0.9" fill="#ffffff"/>
<circle cx="474.1" cy="1497.6" r="1.4" fill="#8a8a95"/>
<circle cx="473.3" cy="1515.5" r="1" fill="#ffffff"/>
<circle cx="480.3" cy="1503.9" r="1.3" fill="#9e9ea9"/>
<circle cx="468.8" cy="1537" r="17.8" fill="url(#rgStone)" stroke="#bcbcc6" stroke-width="1.2"/>
<polygon points="467.3,1535.6 461.6,1540.2 460.8,1531.4" fill="#d8d8df" opacity="0.85"/>
<polygon points="476.9,1526 479.2,1528.7 476,1530.6" fill="#adadb8" opacity="0.85"/>
<polygon points="470.9,1537 468.9,1530.8 475.3,1531.1" fill="#d8d8df" opacity="0.85"/>
<polygon points="456.8,1543.5 464.6,1542.4 459.3,1549.2" fill="#f8f8fb" opacity="0.85"/>
<polygon points="466.3,1544.1 471.8,1538.9 473,1543.8" fill="#c4c4cd" opacity="0.85"/>
<polygon points="475.9,1538.9 478.4,1534 481.1,1540.3" fill="#adadb8" opacity="0.85"/>
<polygon points="469.3,1547.3 465.9,1542 470,1540.4" fill="#f8f8fb" opacity="0.85"/>
<polygon points="478.8,1530.1 478.7,1533.6 476.1,1530.7" fill="#ffffff" opacity="0.85"/>
<polygon points="463.8,1547.1 463.6,1543.6 466.9,1545.5" fill="#ffffff" opacity="0.85"/>
<polygon points="472.4,1547.1 476.8,1547.2 473.7,1550.5" fill="#adadb8" opacity="0.85"/>
<polygon points="464.3,1544.9 471.7,1544.3 466,1550.7" fill="#c4c4cd" opacity="0.85"/>
<polygon points="458.6,1532.3 454,1531.2 457.5,1528.7" fill="#f8f8fb" opacity="0.85"/>
<polygon points="468.4,1524.6 464.5,1524.2 467.1,1521.7" fill="#adadb8" opacity="0.85"/>
<polygon points="465.5,1530.9 468.8,1535.3 463.2,1536" fill="#fdfdfe" opacity="0.85"/>
<circle cx="468.8" cy="1537.5" r="4.5" fill="#ffffff" stroke="#c0c0ca" stroke-width="0.8"/>
<circle cx="459.8" cy="1536.4" r="1" fill="#ffffff"/>
<circle cx="463.9" cy="1524.5" r="1.4" fill="#8a8a95"/>
<circle cx="464.8" cy="1546.1" r="1.3" fill="#8a8a95"/>
<circle cx="477.6" cy="1546.2" r="1.2" fill="#9e9ea9"/>
<circle cx="468.8" cy="1566" r="16.3" fill="url(#rgStone)" stroke="#bcbcc6" stroke-width="1.2"/>
<polygon points="477.9,1572.5 470.2,1574.3 471.6,1568.9" fill="#fdfdfe" opacity="0.85"/>
<polygon points="465.7,1563 458.7,1567.1 459.6,1558.7" fill="#fdfdfe" opacity="0.85"/>
<polygon points="469.8,1575.4 467.1,1569.3 472.3,1569.7" fill="#ffffff" opacity="0.85"/>
<polygon points="482.3,1564 478.7,1560.8 482.8,1559.7" fill="#fdfdfe" opacity="0.85"/>
<polygon points="467.3,1551.8 465.5,1557.8 461.6,1552.2" fill="#fdfdfe" opacity="0.85"/>
<polygon points="465.4,1571.7 463.7,1566.4 468.8,1567" fill="#fdfdfe" opacity="0.85"/>
<polygon points="467.8,1573.8 471.6,1571.3 472.1,1576.4" fill="#adadb8" opacity="0.85"/>
<polygon points="460.3,1565.9 459.8,1562.6 463.4,1563.4" fill="#d8d8df" opacity="0.85"/>
<polygon points="461.5,1568.6 455.7,1565.4 462.8,1563.4" fill="#ffffff" opacity="0.85"/>
<polygon points="474.4,1574.4 468.2,1570.5 473.4,1566.1" fill="#fdfdfe" opacity="0.85"/>
<polygon points="466.9,1577.1 461.5,1578.9 461.8,1573.2" fill="#cfcfd7" opacity="0.85"/>
<polygon points="462,1567 464.5,1563 466.5,1566.9" fill="#ffffff" opacity="0.85"/>
<polygon points="471.1,1579.4 464.4,1578 470.2,1573.7" fill="#fdfdfe" opacity="0.85"/>
<polygon points="477.1,1574.2 471.7,1573.5 474,1569.7" fill="#c4c4cd" opacity="0.85"/>
<circle cx="469.5" cy="1565.9" r="4.1" fill="#ffffff" stroke="#c0c0ca" stroke-width="0.8"/>
<circle cx="480.5" cy="1566.8" r="1.3" fill="#8a8a95"/>
<circle cx="474.8" cy="1562.7" r="1.3" fill="#8a8a95"/>
<circle cx="481" cy="1562.5" r="1" fill="#ffffff"/>
<circle cx="476.2" cy="1570.7" r="1.1" fill="#8a8a95"/>
<circle cx="468.8" cy="1586.5" r="16.3" fill="url(#rgStone)" stroke="#bcbcc6" stroke-width="1.2"/>
<polygon points="454.3,1584.9 458.1,1588.9 454.3,1589.7" fill="#cfcfd7" opacity="0.85"/>
<polygon points="463.4,1591.9 465,1597.5 459.5,1597.1" fill="#d8d8df" opacity="0.85"/>
<polygon points="470,1578 463.9,1581.1 463.5,1574.8" fill="#fdfdfe" opacity="0.85"/>
<polygon points="465.7,1597.5 466,1589.7 471.5,1591.4" fill="#c4c4cd" opacity="0.85"/>
<polygon points="460.8,1600.4 458.2,1595.7 464.7,1595.3" fill="#fdfdfe" opacity="0.85"/>
<polygon points="460.9,1595.4 463.9,1597.1 461,1599.1" fill="#ffffff" opacity="0.85"/>
<polygon points="464.3,1588.6 464,1592.8 459.7,1589.7" fill="#c4c4cd" opacity="0.85"/>
<polygon points="469.5,1576.7 472.6,1573.8 473.5,1579.1" fill="#d8d8df" opacity="0.85"/>
<polygon points="472.9,1597 469.1,1599.3 468.5,1594.9" fill="#f8f8fb" opacity="0.85"/>
<polygon points="477,1575.7 476.3,1579.3 473.2,1576.8" fill="#d8d8df" opacity="0.85"/>
<polygon points="461.4,1594 464.2,1598.2 458.9,1597.9" fill="#cfcfd7" opacity="0.85"/>
<polygon points="470.9,1593.8 476.4,1592.3 473.8,1598.2" fill="#ffffff" opacity="0.85"/>
<polygon points="458.9,1583.6 461.4,1587.9 456,1588" fill="#b8b8c2" opacity="0.85"/>
<polygon points="475.7,1572.7 474.8,1577.7 471.3,1575.7" fill="#fdfdfe" opacity="0.85"/>
<circle cx="469.9" cy="1587.6" r="4.1" fill="#ffffff" stroke="#c0c0ca" stroke-width="0.8"/>
<circle cx="475.6" cy="1588.9" r="1.2" fill="#ffffff"/>
<circle cx="468.6" cy="1597.1" r="1.1" fill="#ffffff"/>
<circle cx="473.9" cy="1598" r="0.9" fill="#9e9ea9"/>
<circle cx="460.9" cy="1582.9" r="1.3" fill="#ffffff"/>
<rect x="459.8" y="1309.5" width="18" height="2.4" fill="#aeaeb9" opacity="0.8"/>
<circle cx="452.8" cy="1310.7" r="2.8" fill="#fbfbfd" stroke="#b0b0bb" stroke-width="0.8"/>
<circle cx="484.8" cy="1310.7" r="2.8" fill="#fbfbfd" stroke="#b0b0bb" stroke-width="0.8"/>
<rect x="459.8" y="1340.7" width="18" height="2.4" fill="#aeaeb9" opacity="0.8"/>
<circle cx="452.8" cy="1341.9" r="2.8" fill="#fbfbfd" stroke="#b0b0bb" stroke-width="0.8"/>
<circle cx="484.8" cy="1341.9" r="2.8" fill="#fbfbfd" stroke="#b0b0bb" stroke-width="0.8"/>
<rect x="459.8" y="1374.7" width="18" height="2.4" fill="#aeaeb9" opacity="0.8"/>
<circle cx="452.8" cy="1375.9" r="2.8" fill="#fbfbfd" stroke="#b0b0bb" stroke-width="0.8"/>
<circle cx="484.8" cy="1375.9" r="2.8" fill="#fbfbfd" stroke="#b0b0bb" stroke-width="0.8"/>
<rect x="459.8" y="1411.4" width="18" height="2.4" fill="#aeaeb9" opacity="0.8"/>
<circle cx="452.8" cy="1412.6" r="2.8" fill="#fbfbfd" stroke="#b0b0bb" stroke-width="0.8"/>
<circle cx="484.8" cy="1412.6" r="2.8" fill="#fbfbfd" stroke="#b0b0bb" stroke-width="0.8"/>
<rect x="459.8" y="1446.8" width="18" height="2.4" fill="#aeaeb9" opacity="0.8"/>
<circle cx="452.8" cy="1448" r="2.8" fill="#fbfbfd" stroke="#b0b0bb" stroke-width="0.8"/>
<circle cx="484.8" cy="1448" r="2.8" fill="#fbfbfd" stroke="#b0b0bb" stroke-width="0.8"/>
<rect x="459.8" y="1482.5" width="18" height="2.4" fill="#aeaeb9" opacity="0.8"/>
<circle cx="452.8" cy="1483.7" r="2.8" fill="#fbfbfd" stroke="#b0b0bb" stroke-width="0.8"/>
<circle cx="484.8" cy="1483.7" r="2.8" fill="#fbfbfd" stroke="#b0b0bb" stroke-width="0.8"/>
<rect x="459.8" y="1518.6" width="18" height="2.4" fill="#aeaeb9" opacity="0.8"/>
<circle cx="452.8" cy="1519.8" r="2.8" fill="#fbfbfd" stroke="#b0b0bb" stroke-width="0.8"/>
<circle cx="484.8" cy="1519.8" r="2.8" fill="#fbfbfd" stroke="#b0b0bb" stroke-width="0.8"/>
<rect x="459.8" y="1550.3" width="18" height="2.4" fill="#aeaeb9" opacity="0.8"/>
<circle cx="452.8" cy="1551.5" r="2.8" fill="#fbfbfd" stroke="#b0b0bb" stroke-width="0.8"/>
<circle cx="484.8" cy="1551.5" r="2.8" fill="#fbfbfd" stroke="#b0b0bb" stroke-width="0.8"/>
<rect x="459.8" y="1575" width="18" height="2.4" fill="#aeaeb9" opacity="0.8"/>
<circle cx="452.8" cy="1576.2" r="2.8" fill="#fbfbfd" stroke="#b0b0bb" stroke-width="0.8"/>
<circle cx="484.8" cy="1576.2" r="2.8" fill="#fbfbfd" stroke="#b0b0bb" stroke-width="0.8"/>
<rect x="411.2" y="1590.8" width="115.6" height="12" fill="#d6d6de" opacity="0.95"/>
<rect x="415.2" y="1591.7" width="107.6" height="2.4" fill="#fbfbfd" opacity="0.95"/>
<path d="M486 1573 l8 -2 l2 9 l-9 3 z" fill="#9d9da8"/>
<path d="M441 1572 l5 1 l-1 8 l-5 -2 z" fill="#adadb8"/>
</g>
<path d="M411.9 1281 L411.9 1589.3" stroke="#c2c2cc" stroke-width="1.4" fill="none"/>
<path d="M526.1 1281 L526.1 1589.3" stroke="#c5c5ce" stroke-width="1.4" fill="none"/>
</g>
<g class="lbl" filter="url(#softt)">
<text id="h0" x="399.8" y="1845.9">0 mm</text>
<g id="h1" transform="translate(631.67 1846.7)"><path transform="scale(0.023047 -0.023047)" d="M806 0H525V1059Q371 915 162 846V1101Q272 1137 401 1237.5T578 1472H806V0Z"/><text x="26.25" y="0">0 mm</text></g>
<text id="h2" x="839.7" y="1848.5">20 mm</text>
<text id="h3" x="1076.4" y="1845.9">30 mm</text>
<text id="h4" x="1300.2" y="1846.6">40 mm</text>
<text id="h5" x="1548.8" y="1847">50 mm</text>
<text id="h6" x="1773" y="1848.9">60 mm</text>
<text id="v0" transform="translate(196.9 1602.7) rotate(-90)">0 mm</text>
<g id="v1" transform="translate(198 1370.73) rotate(-90)"><path transform="scale(0.023047 -0.023047)" d="M806 0H525V1059Q371 915 162 846V1101Q272 1137 401 1237.5T578 1472H806V0Z"/><text x="26.25" y="0">0 mm</text></g>
<text id="v2" transform="translate(199.8 1163.2) rotate(-90)">20 mm</text>
<text id="v3" transform="translate(196.6 926.4) rotate(-90)">30 mm</text>
<text id="v4" transform="translate(196.6 702.5) rotate(-90)">40 mm</text>
<text id="v5" transform="translate(197.7 454) rotate(-90)">50 mm</text>
<text id="v6" transform="translate(199.4 229.3) rotate(-90)">60 mm</text>
</g>
<g class="dim" filter="url(#softd)">
<path id="dim1" d="M445.1 1214.4 L440.4 1214.4 L433.9 1219 L433.9 1223.8 L439 1221.6 L439 1238.6 L433.9 1238.6 L433.9 1242.4 L448.3 1242.4 L448.3 1238.6 L445.1 1238.6 Z" stroke="none"/>
<text id="d4" transform="translate(452.0 1242.4) scale(0.92 1)">4</text>
<text id="dp" transform="translate(474.6 1242.4) scale(1.03 1)">.</text>
<text id="d0a" transform="translate(489.3 1242.4) scale(0.96 1)">0</text>
<text id="d0b" transform="translate(511.7 1242.4) scale(0.96 1)">0</text>
<text id="dm1" transform="translate(532.0 1242.4) scale(1.0 0.93)">m</text>
<text id="dm2" transform="translate(566.3 1242.4) scale(1.0 0.93)">m</text>
</g>
</svg>
</body></html>
